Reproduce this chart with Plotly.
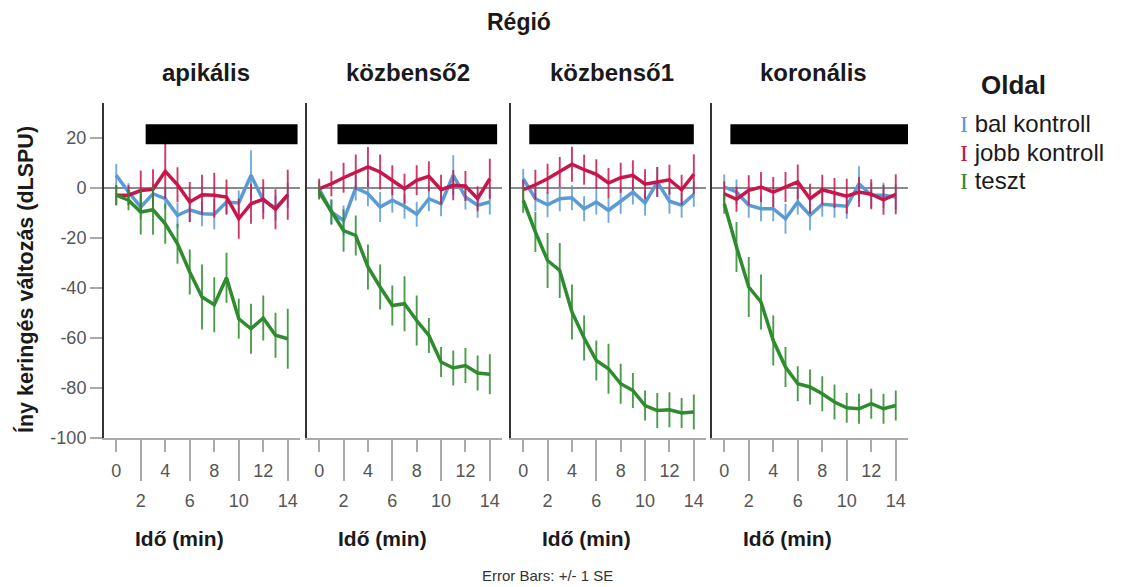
import plotly.graph_objects as go

# ---------------- data ----------------
time_min = list(range(15))
regions = ["apikális", "közbenső2", "közbenső1", "koronális"]
series_names = ["bal kontroll", "jobb kontroll", "teszt"]
y_ticks = [-100, -80, -60, -40, -20, 0, 20]
x_ticks_upper = [0, 4, 8, 12]
x_ticks_lower = [2, 6, 10, 14]

# apikális
bal_apik = [5.1, -1.6, -7.6, -2.3, -4.3, -10.9, -8.7, -10.3, -10.5, -5.6, -6.0, 5.1, -4.9, -8.0, -3.0]
bal_apik_se = [4.5, 3.5, 5, 4, 4, 5, 5, 5, 6, 5, 5, 10, 5, 5, 5]
jobb_apik = [-2.9, -2.9, -1.0, -0.5, 6.7, 1.3, -5.6, -2.7, -2.9, -3.6, -12.3, -6.3, -4.5, -8.5, -2.7]
jobb_apik_se = [4, 4, 8, 8, 11, 7, 8, 8, 9, 7, 8, 8, 8, 8, 10]
teszt_apik = [-2.9, -4.9, -9.6, -8.7, -14.3, -22.3, -33.6, -43.6, -46.7, -35.9, -52.3, -56.3, -52.0, -58.9, -60.3]
teszt_apik_se = [4, 4, 9, 10, 8, 8, 9, 13, 11, 10, 8, 10, 9, 9, 12]

# közbenső2
bal_kb2 = [-0.3, -9.6, -13.0, 0.0, -2.3, -7.6, -4.9, -7.3, -10.5, -4.3, -6.3, 5.1, -3.6, -6.9, -5.6]
bal_kb2_se = [3, 5, 6, 5, 5, 6, 5, 5, 5, 5, 5, 8, 5, 5, 5]
jobb_kb2 = [-0.3, 1.7, 4.1, 6.4, 8.4, 6.4, 3.1, -0.3, 3.1, 4.7, -0.7, 1.1, 0.8, -4.3, 3.7]
jobb_kb2_se = [4, 5, 6, 7, 8, 7, 6, 6, 6, 6, 6, 6, 6, 5, 8]
teszt_kb2 = [-1.6, -9.6, -17.0, -19.0, -31.6, -39.6, -47.0, -46.3, -53.0, -59.0, -69.6, -72.0, -71.0, -74.0, -74.5]
teszt_kb2_se = [3, 5, 8.5, 8, 9, 9, 8, 11, 10, 7, 6, 7, 7, 7, 8]

# közbenső1
bal_kb1 = [3.7, -4.3, -6.7, -4.3, -3.9, -8.3, -5.6, -8.9, -5.3, -1.6, -6.0, 2.4, -5.3, -6.9, -2.5]
bal_kb1_se = [4, 5, 5, 5, 5, 5, 5, 5, 5, 5, 5, 6, 5, 5, 5]
jobb_kb1 = [-0.7, 1.3, 3.7, 6.4, 9.5, 7.3, 5.5, 2.0, 4.1, 5.1, 1.5, 2.4, 3.3, -0.7, 5.5]
jobb_kb1_se = [4, 6, 6, 6, 7, 6, 6, 6, 6, 6, 6, 6, 6, 6, 8]
teszt_kb1 = [-4.9, -17.6, -29.0, -33.0, -49.6, -60.0, -69.0, -72.3, -78.3, -81.0, -87.0, -89.0, -88.7, -90.0, -89.6]
teszt_kb1_se = [5, 8, 11, 11, 11, 9, 8, 10, 8, 7, 6, 7, 7, 6, 7]

# koronális
bal_kor = [0.4, -1.6, -6.9, -8.3, -8.3, -12.3, -5.6, -10.9, -6.5, -6.9, -7.3, 1.7, -2.9, -2.9, -3.6]
bal_kor_se = [5, 5, 5, 5, 5, 6, 5, 6, 5, 5, 5, 7, 5, 5, 5]
jobb_kor = [-2.3, -4.5, -0.9, 0.4, -1.6, 0.4, 2.4, -4.3, -0.7, -2.0, -3.3, -1.6, -2.5, -4.7, -2.5]
jobb_kor_se = [5, 5, 6, 6, 6, 6, 7, 6, 6, 6, 7, 6, 6, 6, 8]
teszt_kor = [-6.3, -23.6, -39.6, -45.6, -61.0, -71.6, -78.3, -79.6, -82.3, -85.6, -87.9, -88.3, -86.3, -88.3, -87.0]
teszt_kor_se = [4, 10, 12, 11, 10, 8, 7, 7, 7, 7, 6, 6, 6, 6, 6]

# stimulation period bars (minutes) per region
stim_start = [2.4, 1.5, 0.5, 0.5]
stim_end = [14.8, 14.6, 14.0, 15.0]
stim_low, stim_high = 17.5, 25.5

means = [
    [bal_apik, jobb_apik, teszt_apik],
    [bal_kb2, jobb_kb2, teszt_kb2],
    [bal_kb1, jobb_kb1, teszt_kb1],
    [bal_kor, jobb_kor, teszt_kor],
]
ses = [
    [bal_apik_se, jobb_apik_se, teszt_apik_se],
    [bal_kb2_se, jobb_kb2_se, teszt_kb2_se],
    [bal_kb1_se, jobb_kb1_se, teszt_kb1_se],
    [bal_kor_se, jobb_kor_se, teszt_kor_se],
]

# ---------------- style ----------------
W, H = 1123, 587
FONT = "Arial, 'Liberation Sans', sans-serif"
line_colors = ["#5b9bd5", "#c8164b", "#2e8b2e"]
err_colors = ["rgba(91,155,213,0.85)", "rgba(200,22,75,0.85)", "rgba(46,139,46,0.85)"]
panel_px = [(104, 300), (307, 502), (511, 706), (712, 908)]
y_top_px, y_bot_px = 103, 438
x_range = [-1, 15]
y_range = [-100, 34]
ydom = [1 - y_bot_px / H, 1 - y_top_px / H]

fig = go.Figure()

for i in range(4):
    xa = "x" if i == 0 else f"x{i+1}"
    ya = "y" if i == 0 else f"y{i+1}"
    for s in range(3):
        fig.add_trace(go.Scatter(
            x=time_min, y=means[i][s], mode="lines",
            name=series_names[s], showlegend=False,
            line=dict(color=line_colors[s], width=3.5),
            error_y=dict(type="data", array=ses[i][s], visible=True,
                         width=0, thickness=1.9, color=err_colors[s]),
            xaxis=xa, yaxis=ya,
        ))
    # stimulation bar
    fig.add_shape(type="rect", xref=xa, yref=ya,
                  x0=stim_start[i], x1=stim_end[i], y0=stim_low, y1=stim_high,
                  fillcolor="black", line=dict(width=0), layer="above")

layout = dict(
    width=W, height=H,
    margin=dict(l=0, r=0, t=0, b=0),
    paper_bgcolor="white", plot_bgcolor="white",
    font=dict(family=FONT, color="#222"),
    showlegend=False,
)

tickfont = dict(family=FONT, size=18, color="#555")
for i in range(4):
    l, r = panel_px[i]
    dom = [l / W, r / W]
    kx = "xaxis" if i == 0 else f"xaxis{i+1}"
    ky = "yaxis" if i == 0 else f"yaxis{i+1}"
    ya = "y" if i == 0 else f"y{i+1}"
    xa = "x" if i == 0 else f"x{i+1}"
    layout[kx] = dict(
        domain=dom, range=x_range, anchor=ya,
        showline=True, linecolor="#aaaaaa", linewidth=1.5,
        ticks="outside", ticklen=12, tickwidth=1.5, tickcolor="#aaaaaa",
        tickvals=x_ticks_upper, ticktext=[str(v) for v in x_ticks_upper],
        tickfont=tickfont, ticklabelstandoff=4,
        showgrid=False, zeroline=False, automargin=False, fixedrange=True,
    )
    # overlay axis for staggered lower labels
    layout[f"xaxis{i+5}"] = dict(
        domain=dom, range=x_range, anchor=ya, overlaying=xa, side="bottom",
        showline=False,
        ticks="outside", ticklen=42, tickwidth=1.5, tickcolor="#aaaaaa",
        tickvals=x_ticks_lower, ticktext=[str(v) for v in x_ticks_lower],
        tickfont=tickfont, ticklabelstandoff=4,
        showgrid=False, zeroline=False, automargin=False, fixedrange=True,
    )
    ycfg = dict(
        domain=ydom, range=y_range, anchor=xa,
        showline=True, linecolor="#333333", linewidth=2,
        zeroline=True, zerolinecolor="#8a8a8a", zerolinewidth=1.6,
        showgrid=False, automargin=False, fixedrange=True,
    )
    if i == 0:
        ycfg.update(ticks="outside", ticklen=12, tickwidth=1.5, tickcolor="#aaaaaa",
                    tickvals=y_ticks, ticktext=[str(v) for v in y_ticks],
                    tickfont=tickfont)
    else:
        ycfg.update(showticklabels=False, ticks="")
    layout[ky] = ycfg

fig.update_layout(**layout)

# dummy trace on the overlay axes so they render
for i in range(4):
    fig.add_trace(go.Scatter(x=[None], y=[None], xaxis=f"x{i+5}",
                             yaxis="y" if i == 0 else f"y{i+1}",
                             showlegend=False, hoverinfo="skip"))

TXT = "#1a1a1a"
ann = []
# main title
ann.append(dict(text="<b>Régió</b>", xref="paper", yref="paper",
                x=519 / W, y=1 - 22 / H, xanchor="center", yanchor="middle",
                showarrow=False, font=dict(size=23, family=FONT, color=TXT)))
for i in range(4):
    dref = "x domain" if i == 0 else f"x{i+1} domain"
    ann.append(dict(text=f"<b>{regions[i]}</b>", xref=dref, yref="paper",
                    x=0.52, y=1 - 73 / H, xanchor="center", yanchor="middle",
                    showarrow=False, font=dict(size=24, family=FONT, color=TXT)))
    ann.append(dict(text="<b>Idő (min)</b>", xref=dref, yref="paper",
                    x=0.385, y=1 - 538 / H, xanchor="center", yanchor="middle",
                    showarrow=False, font=dict(size=21, family=FONT, color=TXT)))
# y axis title
ann.append(dict(text="<b>Íny keringés változás (dLSPU)</b>", xref="paper", yref="paper",
                x=26 / W, y=1 - 280 / H, xanchor="center", yanchor="middle",
                textangle=-90, showarrow=False,
                font=dict(size=21.5, family=FONT, color=TXT)))
# legend
ann.append(dict(text="<b>Oldal</b>", xref="paper", yref="paper",
                x=1013 / W, y=1 - 85 / H, xanchor="center", yanchor="middle",
                showarrow=False, font=dict(size=26, family=FONT, color=TXT)))
legend_y = [124, 152, 180]
for s in range(3):
    ann.append(dict(
        text=(f"<span style='font-family:\"Liberation Serif\", serif;color:{line_colors[s]}'>I</span>"
              f" {series_names[s]}"),
        xref="paper", yref="paper", x=958 / W, y=1 - legend_y[s] / H,
        xanchor="left", yanchor="middle", showarrow=False,
        font=dict(size=24, family=FONT, color=TXT)))
# footer
ann.append(dict(text="Error Bars: +/- 1 SE", xref="paper", yref="paper",
                x=547 / W, y=1 - 575 / H, xanchor="center", yanchor="middle",
                showarrow=False, font=dict(size=15, family=FONT, color="#333")))

fig.update_layout(annotations=ann)
fig.write_html("out.html")
